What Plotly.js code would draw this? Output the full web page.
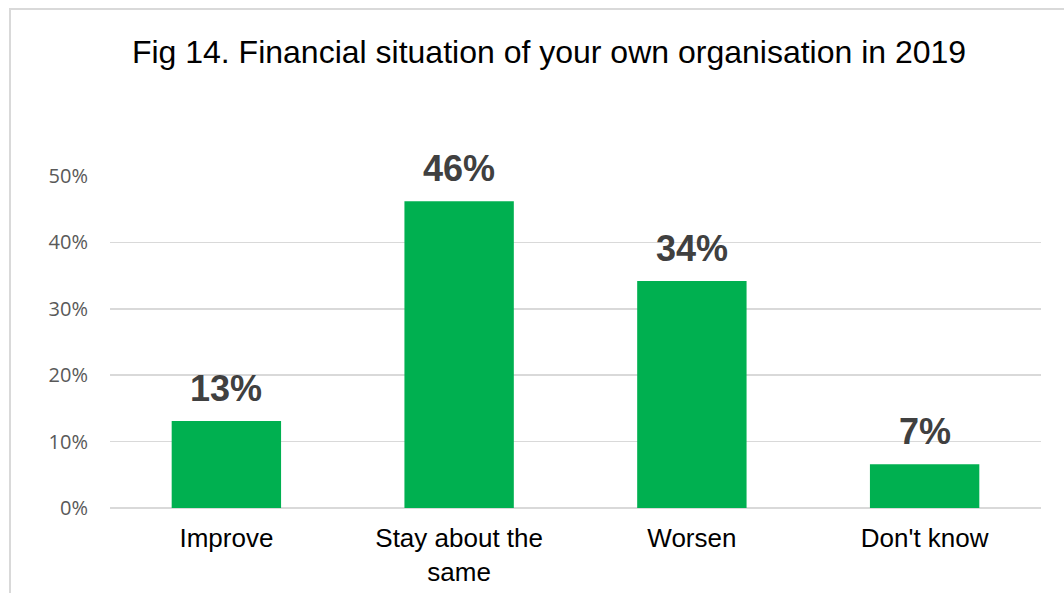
<!DOCTYPE html>
<html>
<head>
<meta charset="utf-8">
<script src="https://cdn.plot.ly/plotly-3.0.1.min.js"></script>
<style>
  html, body { margin: 0; padding: 0; background: #fff; }
  #wrap { position: relative; width: 1064px; height: 593px; overflow: hidden; }
  #chart { width: 1064px; height: 593px; }
  #frame { position: absolute; left: 9px; top: 8px; width: 1200px; height: 700px;
           border-left: 2px solid #d9d9d9; border-top: 2px solid #d9d9d9; pointer-events: none; }
</style>
</head>
<body>
<div id="wrap">
  <div id="chart"></div>
  <div id="frame"></div>
</div>
<script>
const categories = ["Improve", "Stay about the<br>same", "Worsen", "Don't know"];
const shares = [0.131, 0.462, 0.342, 0.066];
const yTickValues = [0, 0.1, 0.2, 0.3, 0.4, 0.5];
const yTickLabels = ["0%", "10%", "20%", "30%", "40%", "50%"];
const chartTitle = "Fig 14. Financial situation of your own organisation in 2019";

const trace = {
  type: "bar",
  x: categories,
  y: shares,
  marker: { color: "#00B050" },
  hoverinfo: "none"
};

const annotations = categories.map((c, i) => ({
  x: c, y: shares[i], xref: "x", yref: "y",
  text: "<b>" + Math.round(shares[i] * 100) + "%</b>",
  showarrow: false, yanchor: "bottom", yshift: 10,
  font: { family: "Liberation Sans, Arial, sans-serif", size: 36, color: "#404040" }
}));

const layout = {
  width: 1064, height: 593,
  margin: { l: 110, r: 23, t: 176, b: 85 },
  paper_bgcolor: "#ffffff", plot_bgcolor: "#ffffff",
  showlegend: false,
  bargap: 0.53,
  title: {
    text: chartTitle,
    font: { family: "Liberation Sans, Arial, sans-serif", size: 32, color: "#000000" },
    x: 0.516, xanchor: "center", xref: "container",
    y: 0.912, yanchor: "middle", yref: "container"
  },
  xaxis: {
    type: "category",
    tickfont: { family: "Liberation Sans, Arial, sans-serif", size: 26, color: "#000000" },
    showgrid: false, zeroline: false, showline: false, ticks: "",
    ticklabelstandoff: 12
  },
  yaxis: {
    range: [0, 0.5],
    tickvals: yTickValues, ticktext: yTickLabels,
    tickfont: { family: "Open Sans, sans-serif", size: 20, color: "#595959" },
    showgrid: true, gridcolor: "#d9d9d9", gridwidth: 1.5,
    zeroline: true, zerolinecolor: "#d9d9d9", zerolinewidth: 1.5,
    showline: false, ticks: "",
    ticklabelstandoff: 21
  },
  annotations: annotations
};

Plotly.newPlot("chart", [trace], layout, { displayModeBar: false, staticPlot: true });
</script>
</body>
</html>
